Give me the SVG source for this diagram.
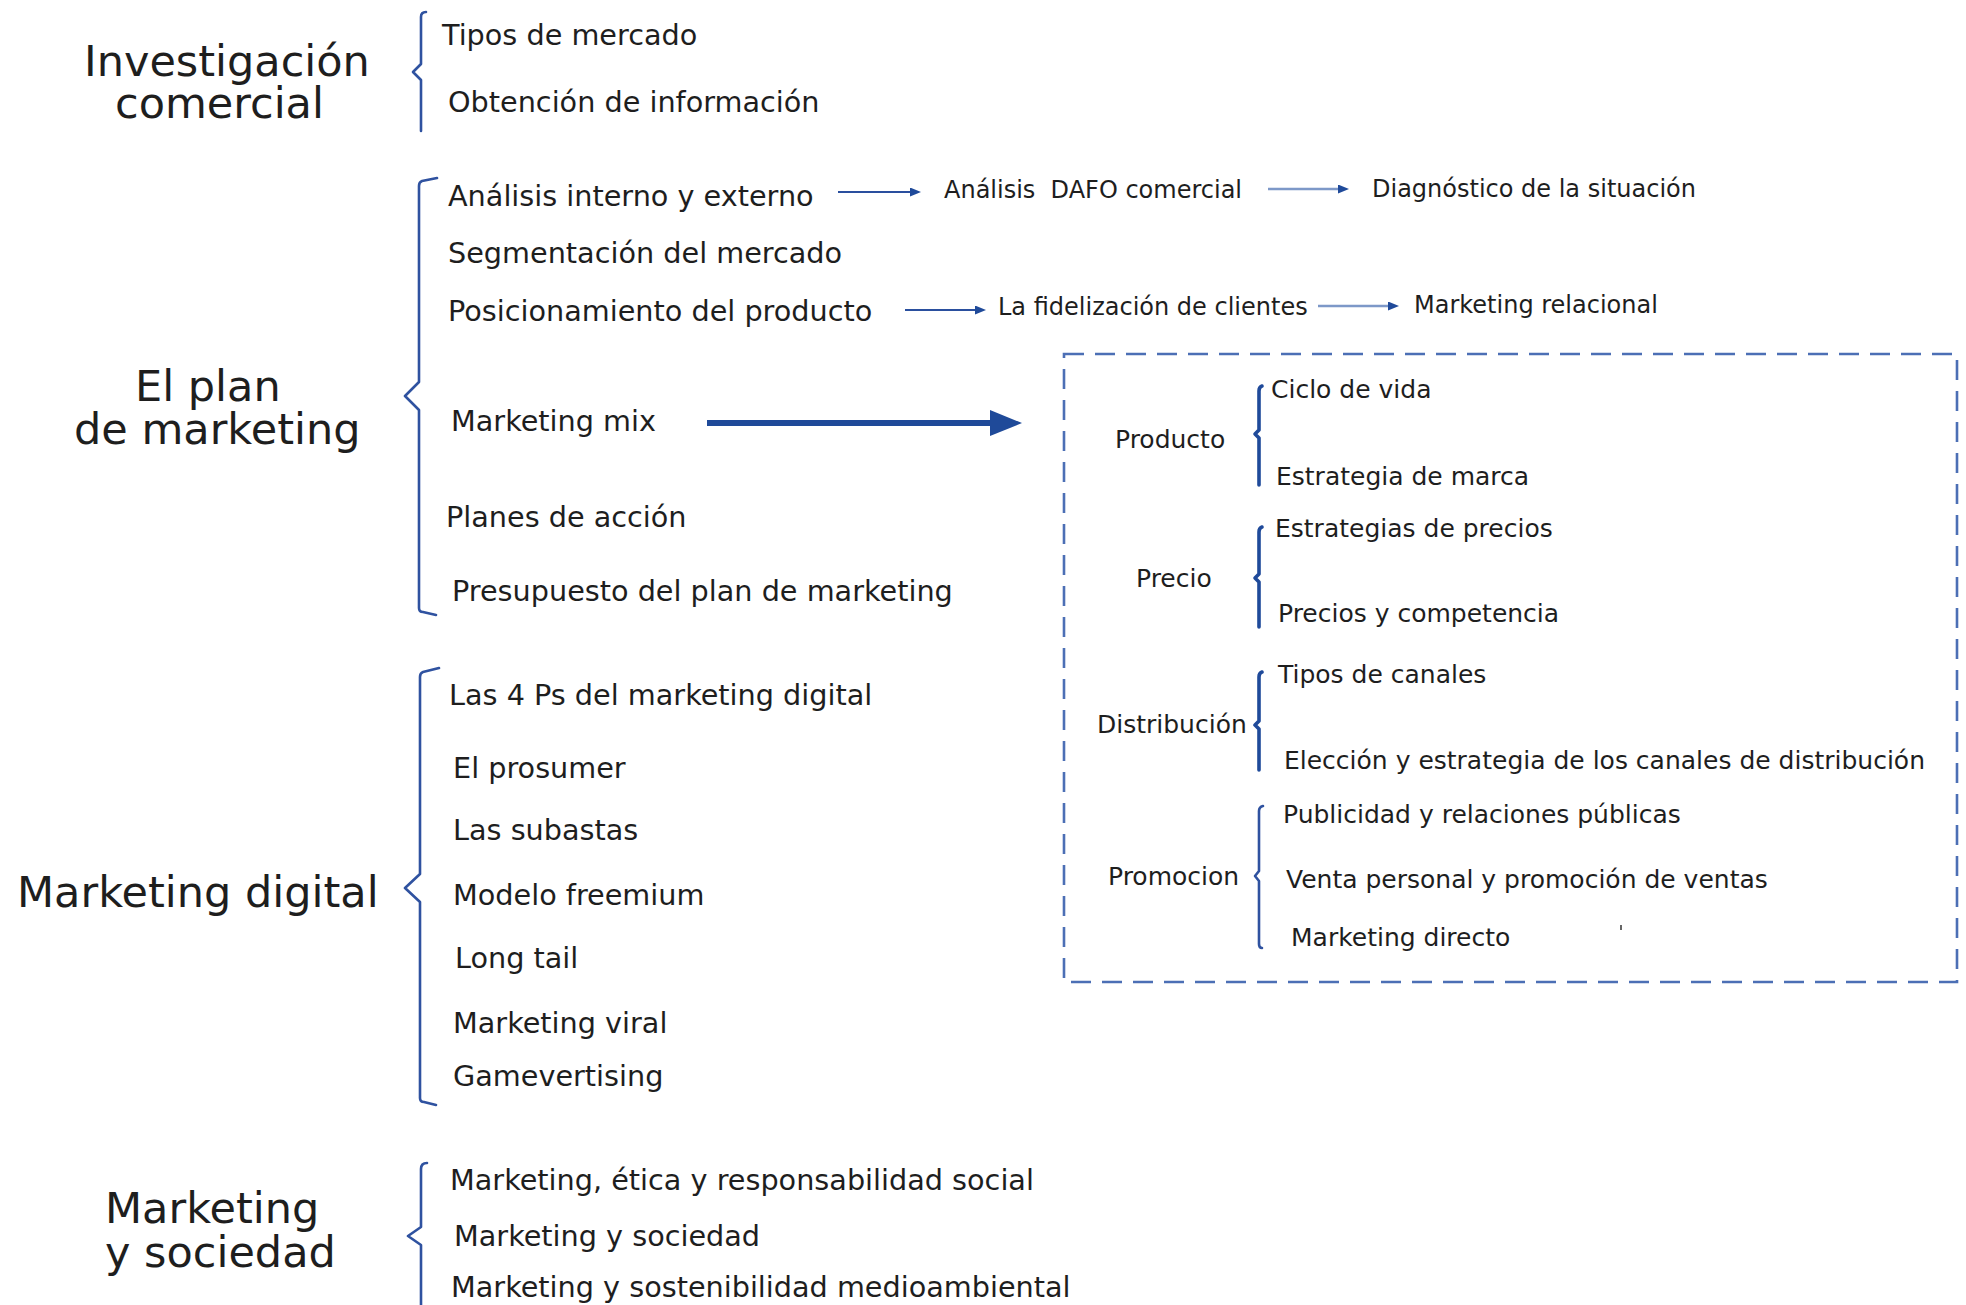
<svg xmlns="http://www.w3.org/2000/svg" width="1966" height="1305" viewBox="0 0 1966 1305">
<defs>
<style>
text{font-family:Verdana,"DejaVu Sans",sans-serif;fill:#1e1e1e;white-space:pre}
.h{font-size:43px}
.i{font-size:28.7px}
.s{font-size:24px}
.b{font-size:25px}
.br{fill:none;stroke:#2f52a0;stroke-width:2.6;stroke-linejoin:round;stroke-linecap:round}
.bb{fill:none;stroke:#1f4a9a;stroke-width:3.6;stroke-linejoin:round;stroke-linecap:round}
.ar{fill:none;stroke:#2a4f9e;stroke-width:2}
.al{fill:none;stroke:#7d98c8;stroke-width:2.4}
</style>
<marker id="ah" markerUnits="userSpaceOnUse" markerWidth="11" markerHeight="9" refX="1" refY="4.5" orient="auto">
<path d="M0,0 L11,4.5 L0,9 z" fill="#1f4a9a"/>
</marker>
</defs>
<rect width="1966" height="1305" fill="#fff"/>

<g id="investigacion">
<text class="h" x="84" y="76">Investigación</text>
<text class="h" x="115" y="118">comercial</text>
<path class="br" d="M426,12 Q421,12 421,17 L421,64 L413,72 L421,80 L421,131"/>
<text class="i" x="442" y="45">Tipos de mercado</text>
<text class="i" x="448" y="112">Obtención de información</text>
</g>

<g id="plan">
<text class="h" x="135" y="401">El plan</text>
<text class="h" x="74" y="444">de marketing</text>
<path class="br" d="M437,178 L422,181 Q419,182 419,186 L419,382 L405,396 L419,410 L419,608 Q419,612 423,612 L436,615"/>
<text class="i" x="448" y="206">Análisis interno y externo</text>
<text class="i" x="448" y="263">Segmentación del mercado</text>
<text class="i" x="448" y="321">Posicionamiento del producto</text>
<text class="i" x="451" y="431">Marketing mix</text>
<text class="i" x="446" y="527">Planes de acción</text>
<text class="i" x="452" y="601">Presupuesto del plan de marketing</text>
</g>

<g id="dafo"><text class="s" x="944" y="198">Análisis  DAFO comercial</text></g>
<g id="diagnostico"><text class="s" x="1372" y="197">Diagnóstico de la situación</text></g>
<g id="fidelizacion"><text class="s" x="998" y="315">La fidelización de clientes</text></g>
<g id="relacional"><text class="s" x="1414" y="313">Marketing relacional</text></g>

<g id="marketing-mix-box">
<rect x="1064" y="354" width="893" height="628" fill="none" stroke="#4c6fb5" stroke-width="2.6" stroke-dasharray="20 11"/>
<g id="producto">
<text class="b" x="1115" y="448">Producto</text>
<path class="bb" d="M1262,386 Q1259,387 1259,391 L1259,430 L1255,434 L1259,438 L1259,485"/>
<text class="b" x="1271" y="398">Ciclo de vida</text>
<text class="b" x="1276" y="485">Estrategia de marca</text>
</g>
<g id="precio">
<text class="b" x="1136" y="587">Precio</text>
<path class="bb" d="M1262,527 Q1259,528 1259,532 L1259,574 L1255,578 L1259,582 L1259,627"/>
<text class="b" x="1275" y="537">Estrategias de precios</text>
<text class="b" x="1278" y="622">Precios y competencia</text>
</g>
<g id="distribucion">
<text class="b" x="1097" y="733">Distribución</text>
<path class="bb" d="M1262,672 Q1259,673 1259,677 L1259,721 L1255,725 L1259,729 L1259,770"/>
<text class="b" x="1278" y="683">Tipos de canales</text>
<text class="b" x="1284" y="769">Elección y estrategia de los canales de distribución</text>
</g>
<g id="promocion">
<text class="b" x="1108" y="885">Promocion</text>
<path class="br" d="M1263,806 Q1259,807 1259,811 L1259,871 L1255,876 L1259,881 L1259,944 Q1259,948 1262,948"/>
<text class="b" x="1283" y="823">Publicidad y relaciones públicas</text>
<text class="b" x="1286" y="888">Venta personal y promoción de ventas</text>
<text class="b" x="1291" y="946">Marketing directo</text>
<line x1="1621" y1="925" x2="1621" y2="930" stroke="#333" stroke-width="1.5"/>
</g>
</g>

<g id="digital">
<text class="h" x="17" y="907">Marketing digital</text>
<path class="br" d="M439,668 L423,672 Q420,673 420,677 L420,874 L405,888 L420,902 L420,1098 Q420,1102 424,1102 L436,1105"/>
<text class="i" x="449" y="705">Las 4 Ps del marketing digital</text>
<text class="i" x="453" y="778">El prosumer</text>
<text class="i" x="453" y="840">Las subastas</text>
<text class="i" x="453" y="905">Modelo freemium</text>
<text class="i" x="455" y="968">Long tail</text>
<text class="i" x="453" y="1033">Marketing viral</text>
<text class="i" x="453" y="1086">Gamevertising</text>
</g>

<g id="sociedad">
<text class="h" x="105" y="1223">Marketing</text>
<text class="h" x="105" y="1267">y sociedad</text>
<path class="br" d="M427,1163 Q421,1163 421,1169 L421,1227 L408,1236 L421,1245 L421,1310"/>
<text class="i" x="450" y="1190">Marketing, ética y responsabilidad social</text>
<text class="i" x="454" y="1246">Marketing y sociedad</text>
<text class="i" x="451" y="1297">Marketing y sostenibilidad medioambiental</text>
</g>

<g id="connectors">
<line class="ar" x1="838" y1="192" x2="911" y2="192" marker-end="url(#ah)"/>
<line class="al" x1="1268" y1="189" x2="1339" y2="189" marker-end="url(#ah)"/>
<line class="ar" x1="905" y1="310" x2="976" y2="310" marker-end="url(#ah)"/>
<line class="al" x1="1318" y1="306" x2="1389" y2="306" marker-end="url(#ah)"/>
<line x1="707" y1="423" x2="994" y2="423" stroke="#1f4a99" stroke-width="6"/>
<path d="M990,410 L1022,423 L990,436 z" fill="#1f4a99"/>
</g>
</svg>
